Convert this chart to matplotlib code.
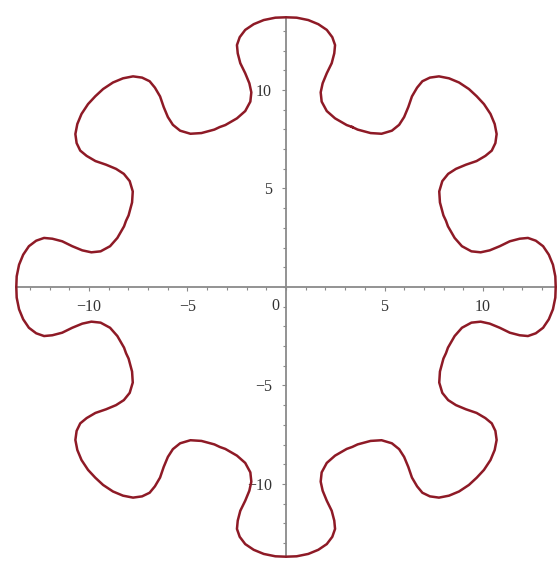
import numpy as np
import matplotlib
matplotlib.use("Agg")
import matplotlib.pyplot as plt

# half of the top lobe: from the tip (on the y axis)
# down to the valley at 67.5 degrees
lobe_x = [0.00, 0.54, 1.13, 1.64, 2.07, 2.35, 2.49, 2.45, 2.32, 2.07,
          1.86, 1.76, 1.81, 2.07, 2.49, 3.08, 3.36]
lobe_y = [13.69, 13.67, 13.55, 13.34, 13.05, 12.68, 12.28, 11.86, 11.36, 10.85,
          10.34, 9.88, 9.41, 8.93, 8.56, 8.22, 8.12]
n_lobes = 8

x_ticks = [-10, -5, 5, 10]
y_ticks = [-10, -5, 5, 10]
x_labels = ["\u221210", "\u22125", "5", "10"]
y_labels = ["\u221210", "\u22125", "5", "10"]

# the curve has 8-fold symmetry and each lobe is mirror symmetric,
# so build the whole outline from the half lobe
r = np.hypot(lobe_x, lobe_y)
off = np.pi / 2 - np.arctan2(lobe_y, lobe_x)  # 0 .. 22.5 deg from lobe axis
one_r = np.concatenate([r[::-1], r[1:]])
one_off = np.concatenate([-off[::-1], off[1:]])

xs, ys = [], []
for k in range(n_lobes):
    a = np.pi / 2 + k * 2 * np.pi / n_lobes + one_off
    xs.append(one_r * np.cos(a))
    ys.append(one_r * np.sin(a))
xs = np.concatenate(xs)
ys = np.concatenate(ys)
xs = np.append(xs, xs[0])
ys = np.append(ys, ys[0])

fig = plt.figure(figsize=(5.58, 5.65), dpi=100)
ax = fig.add_axes([0.0292, 0.0147, 0.9667, 0.9547])

ax.plot(xs, ys, color="#8e1a26", linewidth=1.8, clip_on=False, zorder=3,
        solid_joinstyle="round")

ax.set_xlim(-13.69, 13.69)
ax.set_ylim(-13.69, 13.69)

for side in ["top", "right"]:
    ax.spines[side].set_visible(False)
for side in ["left", "bottom"]:
    ax.spines[side].set_position(("data", 0))
    ax.spines[side].set_color("#8a8a8a")
    ax.spines[side].set_linewidth(1.3)

ax.set_xticks(x_ticks)
ax.set_xticklabels(x_labels)
ax.set_yticks(y_ticks)
ax.set_yticklabels(y_labels)
ax.set_xticks(range(-13, 14), minor=True)
ax.set_yticks(range(-13, 14), minor=True)

ax.tick_params(which="both", direction="out", color="#8a8a8a", width=0.8)
ax.tick_params(which="major", length=3)
ax.tick_params(which="minor", length=2)
ax.tick_params(axis="x", which="major", pad=6)
ax.tick_params(axis="y", which="major", pad=7)

for lab in ax.get_xticklabels() + ax.get_yticklabels():
    lab.set_fontfamily("Liberation Serif")
    lab.set_fontsize(11.5)
    lab.set_color("#333333")

ax.text(-0.35, -0.55, "0", ha="right", va="top", fontsize=11.5,
        family="Liberation Serif", color="#333333")

fig.savefig("out.png", dpi=100)
